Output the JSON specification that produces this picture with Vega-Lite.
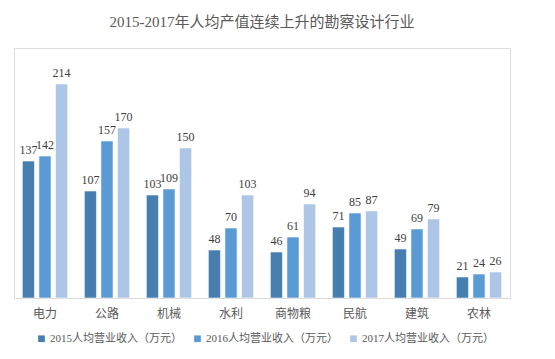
{
  "$schema": "https://vega.github.io/schema/vega-lite/v6.json",
  "width": 496,
  "height": 250,
  "autosize": {"type": "none"},
  "padding": {"left": 14, "top": 48, "right": 45, "bottom": 61},
  "background": "white",
  "title": {
    "text": "2015-2017年人均产值连续上升的勘察设计行业",
    "font": "Liberation Serif, Noto Sans CJK SC",
    "fontSize": 15,
    "fontWeight": "normal",
    "color": "#595959",
    "anchor": "middle",
    "offset": 18
  },
  "data": {
    "values": [
      {"industry": "电力", "year": "2015人均营业收入（万元）", "value": 137},
      {"industry": "电力", "year": "2016人均营业收入（万元）", "value": 142},
      {"industry": "电力", "year": "2017人均营业收入（万元）", "value": 214},
      {"industry": "公路", "year": "2015人均营业收入（万元）", "value": 107},
      {"industry": "公路", "year": "2016人均营业收入（万元）", "value": 157},
      {"industry": "公路", "year": "2017人均营业收入（万元）", "value": 170},
      {"industry": "机械", "year": "2015人均营业收入（万元）", "value": 103},
      {"industry": "机械", "year": "2016人均营业收入（万元）", "value": 109},
      {"industry": "机械", "year": "2017人均营业收入（万元）", "value": 150},
      {"industry": "水利", "year": "2015人均营业收入（万元）", "value": 48},
      {"industry": "水利", "year": "2016人均营业收入（万元）", "value": 70},
      {"industry": "水利", "year": "2017人均营业收入（万元）", "value": 103},
      {"industry": "商物粮", "year": "2015人均营业收入（万元）", "value": 46},
      {"industry": "商物粮", "year": "2016人均营业收入（万元）", "value": 61},
      {"industry": "商物粮", "year": "2017人均营业收入（万元）", "value": 94},
      {"industry": "民航", "year": "2015人均营业收入（万元）", "value": 71},
      {"industry": "民航", "year": "2016人均营业收入（万元）", "value": 85},
      {"industry": "民航", "year": "2017人均营业收入（万元）", "value": 87},
      {"industry": "建筑", "year": "2015人均营业收入（万元）", "value": 49},
      {"industry": "建筑", "year": "2016人均营业收入（万元）", "value": 69},
      {"industry": "建筑", "year": "2017人均营业收入（万元）", "value": 79},
      {"industry": "农林", "year": "2015人均营业收入（万元）", "value": 21},
      {"industry": "农林", "year": "2016人均营业收入（万元）", "value": 24},
      {"industry": "农林", "year": "2017人均营业收入（万元）", "value": 26}
    ]
  },
  "encoding": {
    "x": {
      "field": "industry",
      "type": "nominal",
      "sort": null,
      "scale": {"paddingInner": 0.27, "paddingOuter": 0.135},
      "axis": {
        "title": null,
        "labelAngle": 0,
        "ticks": false,
        "domainColor": "#d9d9d9",
        "domainWidth": 1,
        "labelFont": "Liberation Serif, Noto Sans CJK SC",
        "labelFontSize": 12,
        "labelColor": "#595959",
        "labelPadding": 10
      }
    },
    "xOffset": {
      "field": "year",
      "type": "nominal",
      "scale": {"paddingInner": 0.27}
    },
    "y": {
      "field": "value",
      "type": "quantitative",
      "scale": {"domain": [0, 250]},
      "axis": null
    }
  },
  "layer": [
    {
      "mark": {"type": "bar", "stroke": "white", "strokeWidth": 0.8, "strokeOpacity": 0.7},
      "encoding": {
        "color": {
          "field": "year",
          "type": "nominal",
          "scale": {"range": ["#477EB0", "#5B9BD5", "#ADC5E6"]},
          "legend": {
            "title": null,
            "orient": "none",
            "legendX": 22,
            "legendY": 285,
            "direction": "horizontal",
            "symbolType": "square",
            "symbolSize": 45,
            "symbolStrokeWidth": 0,
            "labelFont": "Liberation Serif, Noto Sans CJK SC",
            "labelFontSize": 11,
            "labelColor": "#595959",
            "labelOffset": 3,
            "columnPadding": 10,
            "labelLimit": 300
          }
        }
      }
    },
    {
      "mark": {
        "type": "text",
        "baseline": "bottom",
        "dy": -4,
        "font": "Liberation Serif",
        "fontSize": 12,
        "color": "#404040"
      },
      "encoding": {
        "text": {"field": "value", "type": "quantitative"}
      }
    }
  ]
}
